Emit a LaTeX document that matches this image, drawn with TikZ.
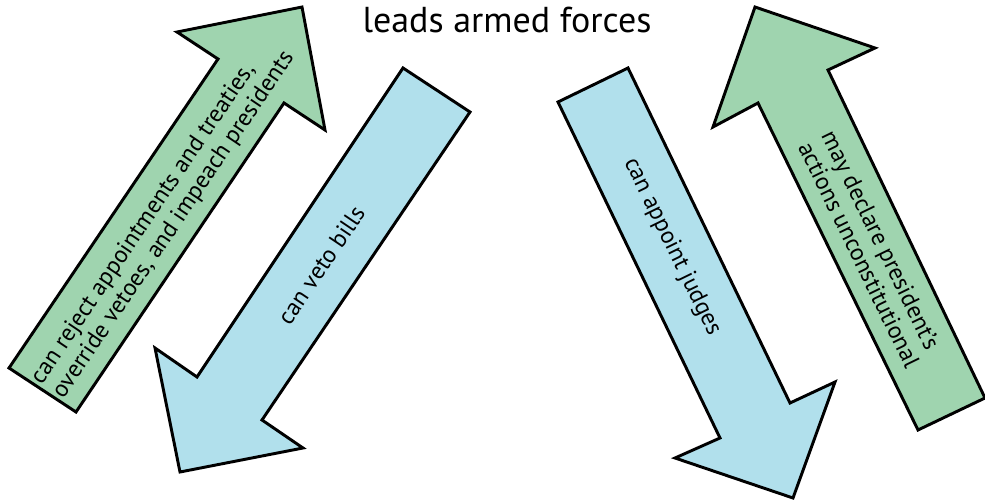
\documentclass[tikz,border=0pt]{standalone}
\usepackage{fontspec}
\setmainfont{PT Sans}
\definecolor{checkgreen}{RGB}{159,212,175}
\definecolor{checkblue}{RGB}{177,224,236}
\tikzset{
  bigarrow/.style={draw=black, line width=2.2pt, line join=miter},
  arrowtext/.style={font=\fontsize{18}{19.5}\selectfont, align=left, inner sep=0pt}
}
\begin{document}
\begin{tikzpicture}[x=0.75pt, y=-0.75pt]
        \useasboundingbox (0,0) rectangle (985,502);
        \begin{scope}[shift={(0,0)}]
          %% green arrow, left
          \draw[bigarrow, fill=checkgreen]
              (9,368) -- (218,59) -- (177,32) -- (302,7) -- (325,130) -- (284,103) -- (76,412) -- cycle;
          %% blue arrow, left
          \draw[bigarrow, fill=checkblue]
              (403,68) -- (470,112) -- (262,420) -- (303,448) -- (180,472) -- (155,348) -- (197,377) -- cycle;
          %% blue arrow, right
          \draw[bigarrow, fill=checkblue]
              (558,102) -- (628,68) -- (790,403) -- (835,382) -- (793,498) -- (675,458) -- (720,438) -- cycle;
          %% green arrow, right
          \draw[bigarrow, fill=checkgreen]
              (918,430) -- (758,103) -- (713,127) -- (755,7) -- (875,48) -- (828,70) -- (985,398) -- cycle;

          %% labels
          \node[font=\fontsize{27}{32}\selectfont, inner sep=0pt] (armedforces) at (507,20) {leads armed forces};
          \node[arrowtext, rotate=56] (rejectnote) at (163,218)
               {can reject appointments and treaties,\\override vetoes, and impeach presidents};
          \node[arrowtext, rotate=56] (vetonote) at (321,265) {can veto bills};
          \node[arrowtext, rotate=-64] (judgesnote) at (672,247) {can appoint judges};
          \node[arrowtext, rotate=-64] (unconstnote) at (871,249)
               {may declare president’s\\actions unconstitutional};
        \end{scope}

        \end{tikzpicture}
\end{document}
